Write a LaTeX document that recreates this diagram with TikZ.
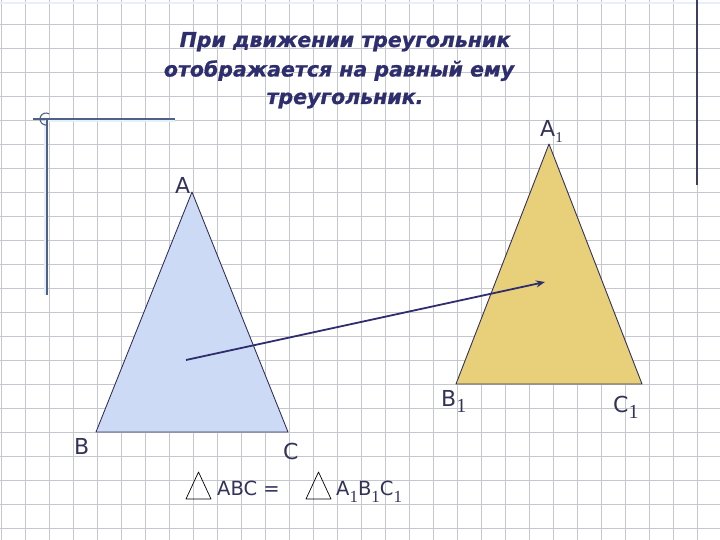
\documentclass[tikz,border=0pt]{standalone}
\usepackage{fontspec}
\setmainfont{DejaVu Sans}
\newfontfamily\titlefont[BoldItalicFeatures={FakeBold=0.9}]{DejaVu Sans}
\newfontfamily\subfont{Liberation Serif}
\usetikzlibrary{arrows.meta}
\definecolor{gridc}{HTML}{C6C6CE}
\definecolor{navy}{HTML}{2E2E6E}
\definecolor{ink}{HTML}{33335A}
\definecolor{bluefill}{HTML}{CCDAF6}
\definecolor{yellowfill}{HTML}{E8CF7A}
\definecolor{decor}{HTML}{4E6284}
\definecolor{glow}{HTML}{E6F0FC}
\newcommand{\sbig}[1]{\raisebox{-6pt}{\subfont\fontsize{20}{20}\selectfont #1}}
\newcommand{\ssmall}[1]{\raisebox{-6pt}{\subfont\fontsize{15}{15}\selectfont #1}}
\newcommand{\sform}[1]{\raisebox{-7pt}{\subfont\fontsize{17}{17}\selectfont #1}}
\begin{document}
\begin{tikzpicture}[x=1pt,y=-1pt,
  titletext/.style={font=\titlefont\fontsize{20.5}{24}\selectfont\bfseries\itshape, text=navy, inner sep=0pt, anchor=base},
  vlabel/.style={font=\fontsize{22}{24}\selectfont, text=ink, inner sep=0pt, anchor=base west},
  formula/.style={font=\fontsize{19.5}{22}\selectfont, text=ink, inner sep=0pt, anchor=base west},
  tri/.style={draw=ink, line width=0.9pt, line join=round},
  smalltri/.style={draw=black, line width=0.7pt, line join=round},
  decoline/.style={draw=decor, line width=1.1pt},
  glowline/.style={draw=glow, line width=3pt}]
\useasboundingbox (0,0) rectangle (720,540);
\fill[white] (0,0) rectangle (720,540);
% grid
\foreach \gx in {1,25,...,720} \draw[gridc, line width=0.9pt] (\gx,0) -- (\gx,540);
\foreach \gy in {24,48,...,540} \draw[gridc, line width=0.9pt] (0,\gy) -- (720,\gy);
\draw[glow, line width=1.5pt] (0,3) -- (720,3);
% decorations
\coordinate (dl1) at (33,119);
\coordinate (dl2) at (175,119);
\coordinate (dv1) at (47,119);
\coordinate (dv2) at (47,295);
\draw[glowline] (45,121) -- (175,121);
\draw[glowline] (45,121) -- (45,295);
\draw[decoline] (dl1) -- (dl2);
\draw[decoline] (dv1) -- (dv2);
\draw[decor, line width=1.1pt] (46,119) ++(70:6) arc[start angle=70, end angle=300, radius=6];
\coordinate (rv1) at (697,0);
\coordinate (rv2) at (697,185);
\draw[draw=ink!85!gray, line width=1.1pt] (rv1) -- (rv2);
% title
\node[titletext] (title1) at (345,47) {При движении треугольник};
\node[titletext] (title2) at (339,76.5) {отображается на равный ему};
\node[titletext] (title3) at (345,104) {треугольник.};
% triangles
\coordinate (A) at (192,192);
\coordinate (B) at (96,432);
\coordinate (C) at (288,432);
\coordinate (A1) at (549,144);
\coordinate (B1) at (456,384);
\coordinate (C1) at (642,384);
\path[tri, fill=bluefill] (A) -- (B) -- (C) -- cycle;
\path[tri, fill=yellowfill] (A1) -- (B1) -- (C1) -- cycle;
% arrow
\coordinate (m0) at (186,360);
\coordinate (m1) at (545,282);
\draw[navy, line width=1.8pt, -{Stealth[length=9pt, width=7pt]}] (m0) -- (m1);
% vertex labels
\node[vlabel] (lA) at (175,194) {A};
\node[vlabel] (lA1) at (540,137) {A\ssmall{1}};
\node[vlabel] (lB1) at (441,406) {B\sbig{1}};
\node[vlabel] (lC1) at (613,412) {C\sbig{1}};
\node[vlabel] (lB) at (74,454) {B};
\node[vlabel] (lC) at (283,459) {C};
% formula
\coordinate (t1a) at (186,499);
\coordinate (t1b) at (211,499);
\coordinate (t1c) at (198.5,472);
\draw[smalltri] (t1a) -- (t1b) -- (t1c) -- cycle;
\node[formula] (f1) at (217,495) {ABC =};
\coordinate (t2a) at (306,499);
\coordinate (t2b) at (331,499);
\coordinate (t2c) at (318.5,472);
\draw[smalltri] (t2a) -- (t2b) -- (t2c) -- cycle;
\node[formula] (f2) at (336,495) {A\sform{1}B\sform{1}C\sform{1}};
\end{tikzpicture}
\end{document}
